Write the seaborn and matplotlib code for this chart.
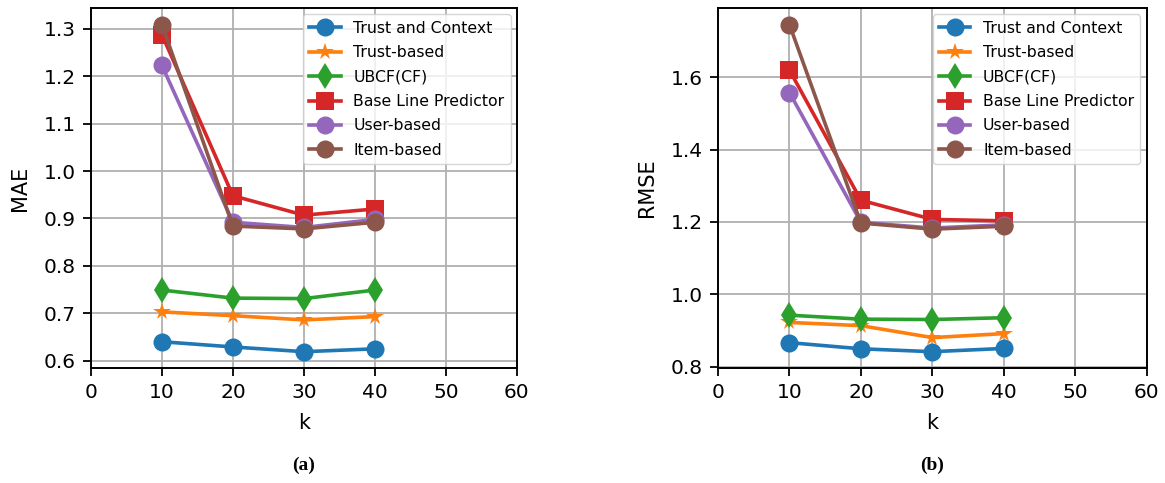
import pandas as pd
import seaborn as sns
import matplotlib.pyplot as plt

k = [10, 20, 30, 40]
methods = ['Trust and Context', 'Trust-based', 'UBCF(CF)',
           'Base Line Predictor', 'User-based', 'Item-based']

# MAE (a)
mae_trust_context = [0.640, 0.629, 0.619, 0.625]
mae_trust = [0.703, 0.695, 0.686, 0.693]
mae_ubcf = [0.749, 0.732, 0.731, 0.749]
mae_baseline = [1.288, 0.948, 0.907, 0.920]
mae_user = [1.223, 0.892, 0.881, 0.898]
mae_item = [1.309, 0.884, 0.878, 0.892]

# RMSE (b)
rmse_trust_context = [0.866, 0.849, 0.841, 0.850]
rmse_trust = [0.922, 0.913, 0.880, 0.891]
rmse_ubcf = [0.942, 0.931, 0.930, 0.935]
rmse_baseline = [1.620, 1.260, 1.207, 1.203]
rmse_user = [1.558, 1.199, 1.183, 1.192]
rmse_item = [1.746, 1.197, 1.180, 1.188]

mae = [mae_trust_context, mae_trust, mae_ubcf, mae_baseline, mae_user, mae_item]
rmse = [rmse_trust_context, rmse_trust, rmse_ubcf, rmse_baseline, rmse_user, rmse_item]


def to_long(series):
    rows = []
    for name, vals in zip(methods, series):
        for kk, v in zip(k, vals):
            rows.append({'k': kk, 'value': v, 'method': name})
    return pd.DataFrame(rows)


markers = dict(zip(methods, ['o', '*', 'd', 's', 'o', 'o']))
palette = dict(zip(methods, sns.color_palette('tab10', 6)))

fig = plt.figure(figsize=(11.65, 4.83), dpi=100)
ax1 = fig.add_axes([0.078, 0.238, 0.3657, 0.745])
ax2 = fig.add_axes([0.6163, 0.238, 0.368, 0.745])

for ax, series, ylabel, cap in [(ax1, mae, 'MAE', '(a)'), (ax2, rmse, 'RMSE', '(b)')]:
    df = to_long(series)
    sns.lineplot(data=df, x='k', y='value', hue='method', style='method',
                 markers=markers, dashes=False, palette=palette,
                 linewidth=2.6, markersize=13, markeredgewidth=0, ax=ax)
    ax.set_xlim(0, 60)
    ax.set_xticks([0, 10, 20, 30, 40, 50, 60])
    ax.grid(True, color='#b0b0b0', linewidth=1.3)
    ax.set_axisbelow(True)
    for sp in ax.spines.values():
        sp.set_linewidth(1.4)
    ax.set_xlabel('k', fontsize=15, labelpad=8)
    ax.set_ylabel(ylabel, fontsize=15, labelpad=10)
    ax.tick_params(labelsize=14.5, length=6, width=1.3, pad=5)
    leg = ax.legend(loc='upper right', fontsize=11.3, markerscale=1.0,
                    handlelength=2.0, borderaxespad=0.4, labelspacing=0.6)
    ax.text(0.5, -0.27, cap, transform=ax.transAxes, ha='center', va='center',
            fontsize=14, fontweight='bold', fontfamily='Liberation Serif')

ax1.set_yticks([0.6, 0.7, 0.8, 0.9, 1.0, 1.1, 1.2, 1.3])
ax2.set_yticks([0.8, 1.0, 1.2, 1.4, 1.6])

fig.savefig('out.png', dpi=100)
